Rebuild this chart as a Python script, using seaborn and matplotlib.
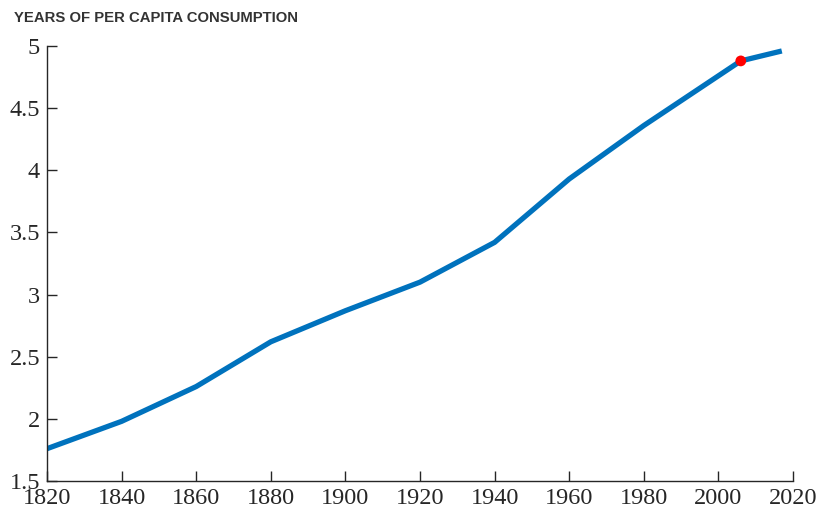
import matplotlib
matplotlib.use("Agg")
import matplotlib.pyplot as plt
import seaborn as sns
import pandas as pd

years = [1820, 1840, 1860, 1880, 1900, 1920, 1940, 1960, 1980, 2000, 2006, 2017]
values = [1.76, 1.98, 2.26, 2.62, 2.87, 3.10, 3.42, 3.93, 4.36, 4.76, 4.88, 4.96]
highlight_year = [2006]
highlight_value = [4.88]
x_ticks = [1820, 1840, 1860, 1880, 1900, 1920, 1940, 1960, 1980, 2000, 2020]
y_ticks = [1.5, 2, 2.5, 3, 3.5, 4, 4.5, 5]
y_tick_labels = ["1.5", "2", "2.5", "3", "3.5", "4", "4.5", "5"]
title = "YEARS OF PER CAPITA CONSUMPTION"

sns.set_style("ticks")
df = pd.DataFrame({"year": years, "value": values})
hl = pd.DataFrame({"year": highlight_year, "value": highlight_value})

fig = plt.figure(figsize=(8.2, 5.16), dpi=100)
ax = fig.add_axes([47/820, 1-481/516, (793-47)/820, (481-46)/516])
sns.lineplot(data=df, x="year", y="value", ax=ax, color="#0072BD", linewidth=3.8,
             solid_joinstyle="round", solid_capstyle="butt")
sns.scatterplot(data=hl, x="year", y="value", ax=ax, color="#FF0000", s=60,
                edgecolor="none", zorder=5)
ax.set_xlim(1820, 2020)
ax.set_ylim(1.5, 5)
ax.set_xticks(x_ticks)
ax.set_yticks(y_ticks)
ax.set_yticklabels(y_tick_labels)
ax.set_xlabel("")
ax.set_ylabel("")
for s in ["top", "right"]:
    ax.spines[s].set_visible(False)
for s in ["left", "bottom"]:
    ax.spines[s].set_color("#262626")
    ax.spines[s].set_linewidth(1.0)
ax.tick_params(direction="in", length=7, width=1.0, color="#262626",
               labelcolor="#262626", pad=5)
for lab in ax.get_xticklabels() + ax.get_yticklabels():
    lab.set_fontfamily("Liberation Serif")
    lab.set_fontsize(17.5)
fig.text(14/820, 1-18/516, title, fontfamily="Liberation Sans", fontweight="bold",
         fontsize=10.7, color="#333333", ha="left", va="center")
fig.savefig("out.png", dpi=100)
